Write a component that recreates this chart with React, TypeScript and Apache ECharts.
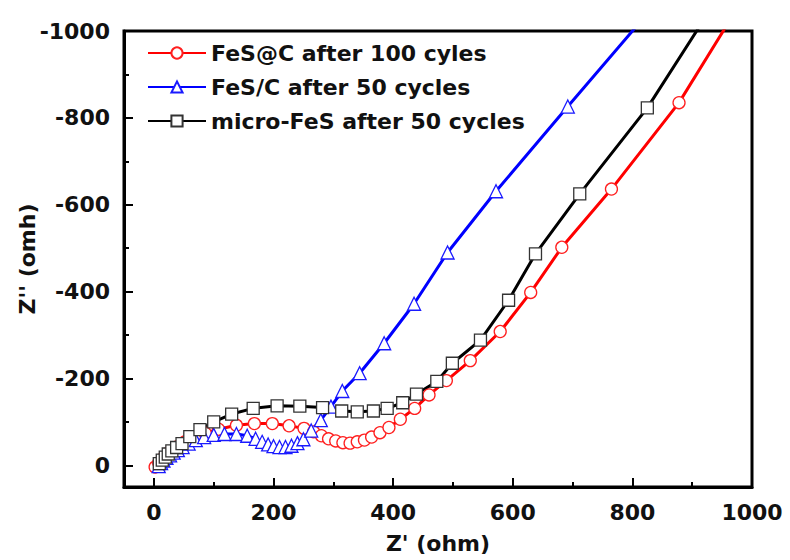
import React, { useEffect, useRef } from "react";
import * as echarts from "echarts";

const seriesNames = ["FeS@C after 100 cyles", "FeS/C after 50 cycles", "micro-FeS after 50 cycles"];

// FeS@C after 100 cycles (red circles): Z' and Z''
const redZre = [2, 8, 16, 26, 38, 52, 68, 86, 108, 138, 168, 198, 226, 251, 267, 280, 292, 304, 316, 328, 340, 352, 364, 378, 393, 412, 436, 460, 489, 529, 579, 630, 682, 765, 878, 990];
const redZim = [4, -6, -17, -30, -42, -54, -64, -74, -83, -92, -96, -96, -91, -85, -77, -68, -61, -56, -52, -51, -54, -58, -65, -75, -87, -106, -131, -162, -195, -241, -308, -398, -502, -636, -835, -1085];

// FeS/C after 50 cycles (blue triangles)
const blueZre = [8, 12, 16, 21, 27, 33, 40, 48, 58, 70, 84, 100, 118, 138, 156, 170, 181, 191, 200, 210, 220, 230, 240, 250, 263, 279, 296, 315, 344, 385, 435, 491, 572, 692, 815];
const blueZim = [2, -5, -11, -17, -23, -29, -35, -42, -50, -58, -65, -70, -72, -72, -68, -61, -54, -48, -44, -42, -42, -45, -51, -60, -80, -104, -135, -171, -212, -281, -372, -490, -631, -826, -1024];

// micro-FeS after 50 cycles (black squares)
const blackZre = [9, 14, 19, 24, 30, 38, 47, 60, 77, 100, 130, 166, 206, 244, 282, 314, 340, 367, 390, 416, 439, 473, 499, 546, 593, 638, 712, 825, 940];
const blackZim = [-4, -12, -19, -26, -33, -41, -50, -66, -82, -100, -118, -131, -137, -136, -133, -125, -123, -125, -131, -144, -164, -193, -235, -288, -380, -487, -625, -823, -1070];

const xMajorTicks = [0, 200, 400, 600, 800, 1000];
const xMinorTicks = [100, 300, 500, 700, 900];
const yMajorTicks = [-1000, -800, -600, -400, -200, 0];
const yMinorTicks = [-900, -700, -500, -300, -100];

const FONT = "DejaVu Sans";

function pairs(xs: number[], ys: number[]) {
  return xs.map((x, i) => [x, ys[i]]);
}

export default function App() {
  const ref = useRef<HTMLDivElement>(null);
  useEffect(() => {
    if (!ref.current) return;
    const chart = echarts.init(ref.current, undefined, { renderer: "svg" });
    const labelStyle = { fontFamily: FONT, fontWeight: "bold" as const, fontSize: 22, color: "#111" };
    const tickLine = { color: "#000", width: 2 };
    const fmt = (v: number) => String(v);
    const mkSeries = (name: string, data: number[][], color: string, symbol: string, size: number, border: string) => ({
      name,
      type: "line",
      data,
      symbol,
      symbolSize: size,
      showAllSymbol: true,
      clip: true,
      lineStyle: { color, width: 3 },
      itemStyle: { color: "#fff", borderColor: border, borderWidth: 1.3 },
      emphasis: { disabled: true },
    });
    chart.setOption({
      animation: false,
      backgroundColor: "#fff",
      grid: {
        left: 124, right: 38, top: 31, bottom: 73,
        outerBoundsMode: "none",
        containLabel: false,
        show: true, borderColor: "#000", borderWidth: 3, backgroundColor: "transparent",
      },
      legend: {
        orient: "vertical",
        left: 142,
        top: 36,
        itemWidth: 58,
        itemHeight: 14,
        itemGap: 10,
        textStyle: { ...labelStyle, lineHeight: 24 },
        data: seriesNames,
      },
      xAxis: [
        {
          type: "value",
          min: -50,
          max: 1000,
          position: "bottom",
          name: "Z' (ohm)",
          nameLocation: "middle",
          nameGap: 45,
          nameMoveOverlap: false,
          nameTextStyle: labelStyle,
          axisLine: { show: true, onZero: false, lineStyle: { color: "#000", width: 3 } },
          axisTick: { show: true, inside: true, length: 9, lineStyle: tickLine, customValues: xMajorTicks },
          axisLabel: { ...labelStyle, margin: 14, customValues: xMajorTicks, formatter: fmt },
          splitLine: { show: false },
        },
        {
          type: "value",
          min: -50,
          max: 1000,
          position: "bottom",
          axisLine: { show: false, onZero: false },
          axisTick: { show: true, inside: true, length: 5, lineStyle: tickLine, customValues: xMinorTicks },
          axisLabel: { show: false },
          splitLine: { show: false },
        },
      ],
      yAxis: [
        {
          type: "value",
          inverse: true,
          min: -1000,
          max: 50,
          position: "left",
          name: "Z'' (omh)",
          nameLocation: "middle",
          nameGap: 86,
          nameMoveOverlap: false,
          nameRotate: 90,
          nameTextStyle: labelStyle,
          axisLine: { show: true, onZero: false, lineStyle: { color: "#000", width: 3 } },
          axisTick: { show: true, inside: true, length: 9, lineStyle: tickLine, customValues: yMajorTicks },
          axisLabel: { ...labelStyle, margin: 14, customValues: yMajorTicks, formatter: fmt },
          splitLine: { show: false },
        },
        {
          type: "value",
          inverse: true,
          min: -1000,
          max: 50,
          position: "left",
          axisLine: { show: false, onZero: false },
          axisTick: { show: true, inside: true, length: 5, lineStyle: tickLine, customValues: yMinorTicks },
          axisLabel: { show: false },
          splitLine: { show: false },
        },
      ],
      series: [
        mkSeries(seriesNames[0], pairs(redZre, redZim), "#ff0000", "circle", 12, "#ff2020"),
        mkSeries(seriesNames[1], pairs(blueZre, blueZim), "#0000ff", "triangle", 13, "#1a1aff"),
        mkSeries(seriesNames[2], pairs(blackZre, blackZim), "#000000", "rect", 12, "#333333"),
      ],
    });
    return () => chart.dispose();
  }, []);
  return <div ref={ref} style={{ position: "fixed", left: 0, top: 0, width: 790, height: 560 }} />;
}
